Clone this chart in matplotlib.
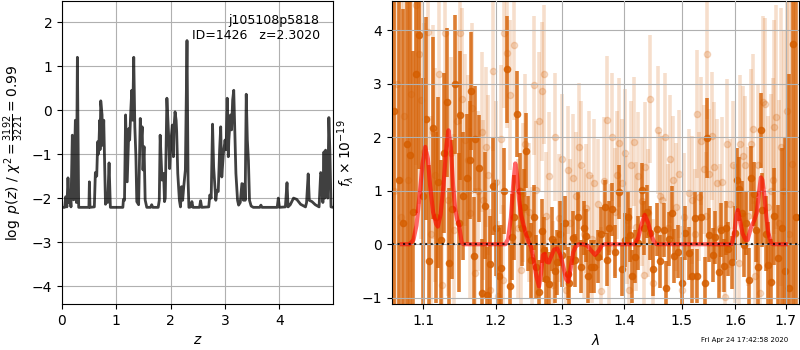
import numpy as np
import matplotlib
matplotlib.use('Agg')
from matplotlib import pyplot as plt
from matplotlib.ticker import NullLocator

# p(z) curve
z_grid = [0.0, 0.05, 0.068, 0.09, 0.11, 0.13, 0.147, 0.165, 0.19, 0.215, 0.246, 0.265, 0.283, 0.307,
          0.495, 0.504, 0.515, 0.595, 0.614, 0.639, 0.657, 0.670, 0.682, 0.694, 0.700, 0.713, 0.737,
          0.745, 0.756, 0.768, 0.80, 0.82, 0.84, 0.866, 0.89, 1.12, 1.13, 1.15, 1.17, 1.20, 1.23,
          1.245, 1.266, 1.284, 1.30, 1.32, 1.34, 1.36, 1.376, 1.41, 1.44, 1.456, 1.475, 1.49, 1.51,
          1.53, 1.56, 1.63, 1.65, 1.67, 1.77, 1.79, 1.806, 1.84, 1.87, 1.886, 1.90, 1.93, 1.96, 1.98,
          2.00, 2.03, 2.05, 2.06, 2.08, 2.10, 2.11, 2.13, 2.16, 2.18, 2.20, 2.22, 2.24, 2.27, 2.30,
          2.32, 2.335, 2.37, 2.39, 2.41, 2.53, 2.55, 2.57, 2.70, 2.72, 2.745, 2.77, 2.79, 2.81, 2.83,
          2.85, 2.875, 2.90, 2.92, 2.94, 2.97, 3.00, 3.02, 3.04, 3.06, 3.07, 3.10, 3.12, 3.14, 3.16,
          3.18, 3.20, 3.23, 3.25, 3.28, 3.31, 3.34, 3.36, 3.37, 3.39, 3.41, 3.43, 3.45, 3.48, 3.52,
          3.64, 3.66, 3.68, 3.96, 3.98, 4.00, 4.11, 4.14, 4.16, 4.20, 4.26, 4.32, 4.39, 4.48, 4.50,
          4.53, 4.55, 4.60, 4.66, 4.73, 4.76, 4.78, 4.80, 4.82, 4.835, 4.85, 4.87, 4.89, 4.91, 4.93,
          4.95, 4.99]
log_pz = [-2.21, -2.21, -1.97, -2.2, -1.54, -2.1, -1.88, -2.2, -0.57, -2.04, -0.23, -2.1, 1.2, -2.21,
          -2.21, -1.63, -2.21, -2.2, -1.42, -1.50, -0.72, -1.0, -0.68, -0.23, -0.9, 0.21, -0.11,
          -0.8, -0.68, -0.23, -2.14, -1.95, -2.1, -1.2, -2.21, -2.21, -2.03, -2.05, -0.11, -1.63, -0.42,
          -0.68, 0.0, 0.45, -0.23, 1.2, -0.38, -1.06, -2.08, -2.15, -0.19, -0.76, -0.38, -1.36, -0.83,
          -2.04, -2.21, -2.21, -2.15, -2.21, -2.21, -2.05, -0.57, -1.59, -1.44, -2.08, -2.0, 0.27, -0.53, -1.33,
          -0.76, -0.34, -1.06, -0.42, -0.04, -0.23, -0.49, -1.44, -2.05, -2.2, -1.74, -2.05, -1.74, -1.36, 1.58,
          -1.59, -2.21, -2.2, -2.08, -2.21, -2.21, -2.06, -2.21, -2.2, -1.93, -2.0, -0.32, -1.29, -1.67, -2.05,
          -1.82, -1.85, -0.91, -0.38, -1.52, -0.98, -0.68, -0.9, 0.27, -1.06, -0.68, -0.11, -0.45, 0.23, 0.45,
          -0.45, -1.44, -2.05, -2.16, -2.1, -1.67, -2.05, -1.67, -2.05, 0.36, -0.68, -1.14, -2.05, -2.18, -2.21,
          -2.21, -2.16, -2.21, -2.21, -2.0, -2.21, -2.2, -1.65, -2.2, -2.15, -2.0, -2.03, -2.14, -2.2, -2.1,
          -1.45, -2.05, -2.08, -2.15, -2.2, -1.42, -1.47, -2.1, -0.95, -2.0, -0.91, -1.33, -2.0, -0.17, -0.98,
          -2.2, -2.21]

# spectrum, dark points
wave_a = [1.062, 1.068, 1.074, 1.079, 1.083, 1.087, 1.091, 1.094, 1.099,
          1.104, 1.108, 1.113, 1.117, 1.120, 1.124, 1.128, 1.132, 1.135, 1.139, 1.143, 1.148, 1.150,
          1.154, 1.159, 1.163, 1.165, 1.169, 1.171, 1.176, 1.180, 1.185, 1.188, 1.192, 1.196, 1.200,
          1.204, 1.207, 1.212, 1.216, 1.221, 1.224, 1.227, 1.231, 1.235, 1.238, 1.241, 1.244, 1.248,
          1.252, 1.256, 1.260, 1.264, 1.268, 1.271, 1.275, 1.280, 1.284, 1.288, 1.292, 1.296, 1.300,
          1.304, 1.308, 1.311, 1.316, 1.320, 1.325, 1.330, 1.334, 1.337, 1.341, 1.346, 1.351, 1.357,
          1.362, 1.368, 1.371, 1.375, 1.379, 1.385, 1.391, 1.397, 1.401, 1.406, 1.410, 1.414, 1.419,
          1.424, 1.430, 1.434, 1.439, 1.445, 1.450, 1.456, 1.462, 1.468, 1.473, 1.478, 1.483, 1.487,
          1.494, 1.500, 1.506, 1.513, 1.519, 1.525, 1.528, 1.536, 1.542, 1.547, 1.551, 1.557, 1.562,
          1.569, 1.572, 1.578, 1.583, 1.587, 1.594, 1.599, 1.603, 1.607, 1.612, 1.616, 1.621, 1.626,
          1.631, 1.636, 1.641, 1.645, 1.650, 1.653, 1.660, 1.665, 1.671, 1.677, 1.685, 1.692, 1.699,
          1.706, 1.714, 1.721]
flux_a = [2.5, 1.2, 0.4, 1.87, 1.67, 0.61, 3.18, 3.91, 0.9,
          2.35, -0.31, 2.18, 0.5, 1.16, 0.07, 1.71, 2.65, -0.35, 0.65, 2.99, 0.40, 2.41,
          0.90, 1.23, 1.57, 2.86, -0.22, 1.96, 1.42, -0.91, 0.72, -0.95, -0.37, 1.08, 0.3,
          -0.6, -0.44, 0.99, 3.27, -0.79, 0.13, 0.5, 2.44, 1.0, 0.3, 0.70, 1.75, 0.2,
          -0.3, 0.5, -0.42, -0.9, 0.25, -0.1, -0.65, -0.74, 0.1, -0.5, -0.34, 0.2, -0.2,
          0.4, -0.55, -0.72, 0.12, -0.3, 0.5, -0.42, 0.3, 0.16, -0.6, -0.42, -0.42, -0.23,
          0.2, 0.70, -0.29, 0.3, 0.65, -0.14, 0.98, -0.47, 0.08, 0.5, 0.17, -0.6, -0.23,
          0.02, 1.01, 0.3, 0.61, 0.21, -0.47, 0.28, -0.32, 0.27, -0.82, 0.1, 0.59, -0.22,
          -0.14, -0.73, 0.21, -0.17, -0.59, 0.49, -0.59, 0.50, -0.73, 1.98, 0.17, -0.2, 0.13,
          -0.51, 0.27, -0.40, 0.3, -0.09, -0.34, 0.21, 1.2, 1.03, 0.58, -0.01, 0.4, -0.67,
          1.23, 0.94, 0.27, -0.42, 2.13, 0.64, 0.2, -0.39, -0.70, 0.52, -0.26, 0.3, -0.5,
          -0.82, 3.74, 0.5]
err_a = [6.0, 5.0, 4.0, 3.2, 3.0, 3.0, 2.6, 2.5, 2.2,
         1.9, 1.8, 1.7, 1.6, 1.6, 1.5, 1.5, 1.4, 1.4, 1.3, 1.3, 1.3, 1.2,
         1.2, 1.2, 1.1, 1.1, 1.1, 1.0, 1.0, 1.0, 1.0, 0.9, 0.9, 0.9, 0.9,
         0.9, 0.8, 0.8, 1.0, 0.8, 0.8, 0.8, 0.8, 0.7, 0.7, 0.7, 0.7, 0.7,
         0.7, 0.6, 0.6, 0.6, 0.6, 0.6, 0.6, 0.6, 0.6, 0.6, 0.6, 0.6, 0.6,
         0.5, 0.5, 0.5, 0.5, 0.5, 0.5, 0.5, 0.5, 0.5, 0.5, 0.5, 0.5, 0.5,
         0.5, 0.5, 0.5, 0.5, 0.5, 0.5, 0.5, 0.5, 0.5, 0.5, 0.5, 0.5, 0.5,
         0.5, 0.5, 0.5, 0.5, 0.5, 0.5, 0.5, 0.5, 0.5, 0.5, 0.5, 0.5, 0.5,
         0.5, 0.5, 0.5, 0.5, 0.5, 0.5, 0.5, 0.5, 0.5, 0.75, 0.5, 0.5, 0.5,
         0.5, 0.5, 0.5, 0.5, 0.5, 0.5, 0.5, 0.6, 0.6, 0.6, 0.6, 0.6, 0.6,
         0.6, 0.6, 0.6, 0.7, 0.7, 0.7, 0.7, 0.8, 0.8, 0.9, 1.0, 1.5, 2.5,
         4.0, 6.0, 7.0]

# spectrum, light points
wave_b = [1.062, 1.066, 1.071, 1.075, 1.080, 1.084, 1.090, 1.094, 1.097, 1.101, 1.106, 1.110, 1.113,
          1.116, 1.121, 1.125, 1.129, 1.133, 1.137, 1.141, 1.145, 1.150, 1.152, 1.157, 1.160, 1.163,
          1.166, 1.171, 1.175, 1.180, 1.182, 1.186, 1.189, 1.192, 1.196, 1.200, 1.203, 1.207, 1.210,
          1.212, 1.217, 1.221, 1.227, 1.233, 1.237, 1.240, 1.243, 1.249, 1.253, 1.256, 1.260, 1.264,
          1.268, 1.272, 1.275, 1.279, 1.285, 1.289, 1.295, 1.300, 1.305, 1.308, 1.312, 1.316, 1.321,
          1.326, 1.330, 1.334, 1.338, 1.343, 1.347, 1.351, 1.357, 1.362, 1.366, 1.371, 1.375, 1.379,
          1.384, 1.388, 1.392, 1.396, 1.401, 1.405, 1.408, 1.412, 1.417, 1.420, 1.424, 1.430, 1.433,
          1.436, 1.441, 1.445, 1.450, 1.458, 1.462, 1.466, 1.470, 1.475, 1.480, 1.484, 1.490, 1.495,
          1.500, 1.505, 1.513, 1.519, 1.524, 1.528, 1.532, 1.536, 1.541, 1.544, 1.547, 1.551, 1.555,
          1.559, 1.565, 1.570, 1.575, 1.580, 1.584, 1.590, 1.595, 1.600, 1.607, 1.610, 1.614, 1.618,
          1.624, 1.631, 1.634, 1.639, 1.645, 1.649, 1.654, 1.658, 1.664, 1.670, 1.674, 1.677, 1.681,
          1.686, 1.691, 1.696, 1.702, 1.707, 1.712]
flux_b = [1.0, 3.0, 0.5, 2.4, 1.2, 2.8, 4.48, 3.56, 2.69, 1.73, 3.97, 0.2, 2.10,
          1.29, 3.18, -0.76, 3.94, 0.83, 1.70, 0.27, 2.3, 3.94, 2.72, 1.95, 1.57, 0.58,
          2.54, -0.54, 1.0, 2.10, 0.83, 1.82, 1.29, -0.85, 3.24, 1.17, -0.96, 1.96, -0.67,
          3.94, 3.58, 2.79, 3.72, 0.3, -0.49, 0.96, 1.88, 0.6, -0.23, 2.97, 1.01, 2.3,
          2.86, 3.18, 0.52, 1.27, -0.76, 2.0, 0.49, 1.6, -0.85, 1.39, 0.4, 1.24, 0.9,
          1.82, 1.48, 0.2, 0.67, 1.3, 0.1, 1.14, 0.76, -0.88, 1.18, 2.32, -0.07, 2.0,
          0.6, 1.29, 1.90, 1.14, 1.70, 0.45, -0.85, 1.48, 1.92, 0.33, 1.27, 0.80, -0.57,
          1.45, 0.58, 2.72, -0.73, 2.13, 0.9, 0.83, 2.0, 0.3, 1.59, 1.20, 0.70, 1.31,
          -0.85, 0.5, 0.96, 0.83, 0.2, 2.44, 0.89, 1.93, 1.40, 0.52, 3.55, 1.32, 2.02,
          1.45, 1.15, 0.3, 1.17, -0.98, 1.88, 0.76, 1.48, 0.2, -0.35, 1.87, 1.65, 1.48,
          0.52, 1.87, 2.16, -0.60, 1.48, -0.91, 2.66, 2.63, 0.70, 1.0, 1.20, 2.19, 2.38,
          0.4, 1.82, 1.0, 2.5, 0.2, 1.5]
err_b = [6.0, 5.0, 5.0, 4.5, 4.0, 3.5, 3.0, 2.8, 2.6, 2.4, 2.2, 2.2, 2.0,
         2.0, 2.0, 1.9, 1.9, 1.8, 1.8, 1.8, 1.7, 1.7, 1.7, 1.6, 1.6, 1.6,
         1.6, 1.6, 1.5, 1.5, 1.5, 1.5, 1.5, 1.5, 1.5, 1.5, 1.4, 1.4, 1.4,
         1.4, 1.4, 1.4, 1.4, 1.3, 1.3, 1.3, 1.3, 1.3, 1.3, 1.3, 1.3, 1.3,
         1.3, 1.3, 1.2, 1.2, 1.2, 1.2, 1.2, 1.2, 1.2, 1.2, 1.2, 1.2, 1.2,
         1.2, 1.2, 1.2, 1.2, 1.2, 1.2, 1.2, 1.2, 1.2, 1.2, 1.2, 1.2, 1.2,
         1.2, 1.2, 1.2, 1.2, 1.2, 1.2, 1.2, 1.2, 1.2, 1.2, 1.2, 1.2, 1.2,
         1.2, 1.2, 1.2, 1.2, 1.2, 1.2, 1.2, 1.2, 1.2, 1.2, 1.2, 1.2, 1.2,
         1.2, 1.2, 1.2, 1.2, 1.2, 1.2, 1.2, 1.2, 1.2, 1.2, 1.2, 1.2, 1.2,
         1.2, 1.2, 1.2, 1.2, 1.2, 1.2, 1.2, 1.2, 1.3, 1.3, 1.3, 1.3, 1.3,
         1.3, 1.4, 1.4, 1.4, 1.5, 1.5, 1.6, 1.6, 1.7, 1.8, 1.9, 2.0, 2.1,
         2.3, 2.6, 3.0, 4.0, 5.0, 6.0]

# best-fit model
model_wave = [1.072, 1.082, 1.087, 1.091, 1.095, 1.099, 1.1026, 1.106, 1.109, 1.113, 1.117, 1.1194,
              1.123, 1.127, 1.131, 1.1338, 1.137, 1.140, 1.143, 1.146, 1.148, 1.150, 1.152, 1.155,
              1.214, 1.218, 1.222, 1.226, 1.2285, 1.231, 1.234, 1.237, 1.240, 1.244, 1.248, 1.252,
              1.256, 1.260, 1.264, 1.267, 1.270, 1.273, 1.276, 1.279, 1.283, 1.287, 1.292, 1.297,
              1.302, 1.306, 1.309, 1.313, 1.317, 1.321, 1.326, 1.333, 1.340, 1.346, 1.352, 1.358,
              1.363, 1.368, 1.418, 1.424, 1.429, 1.435, 1.441, 1.447, 1.452, 1.456, 1.593, 1.598,
              1.602, 1.605, 1.609, 1.614, 1.620, 1.624, 1.630, 1.637, 1.642, 1.646, 1.650, 1.653,
              1.657, 1.661, 1.665, 1.670, 1.675, 1.700]
model_flux = [0, 0, 0.08, 0.35, 0.9, 1.5, 1.82, 1.6, 1.1, 0.6, 0.38, 0.33,
              0.55, 1.1, 1.85, 2.13, 1.8, 1.1, 0.65, 0.45, 0.38, 0.2, 0.02, 0,
              0, 0.1, 0.5, 1.2, 1.51, 1.3, 0.85, 0.55, 0.4, 0.2, 0.05, -0.05,
              -0.3, -0.6, -0.79, -0.55, -0.2, -0.18, -0.33, -0.34, -0.22, -0.1, -0.08, -0.2,
              -0.45, -0.66, -0.7, -0.45, -0.15, -0.04, 0, 0, -0.03, -0.12, -0.2, -0.12,
              -0.02, 0, 0, 0.12, 0.35, 0.55, 0.4, 0.15, 0.03, 0, 0, 0.2,
              0.55, 0.64, 0.45, 0.2, 0.08, 0.08, 0.3, 0.45, 0.6, 0.95, 1.25, 1.2,
              0.9, 0.5, 0.2, 0.02, 0, 0]

wave_ticks = [1.1, 1.2, 1.3, 1.4, 1.5, 1.6, 1.7]
grism_color = (0.835, 0.369, 0.0)

fig = plt.figure(figsize=(8, 3.5), dpi=100)

# p(z)
ax = fig.add_axes([0.0775, 0.131, 0.339, 0.865])
ax.plot(z_grid, log_pz, color='k', alpha=0.75, lw=2)
ax.set_xlim(0, 4.99)
ax.set_ylim(-4.41, 2.47)
ax.set_xticks([0, 1, 2, 3, 4])
ax.grid()
ax.set_xlabel(r'$z$')
ax.set_ylabel(r'$\log\ p(z)$' + ' / ' + r'$\chi^2=\frac{3192}{3221}=0.99$')
ax.text(0.95, 0.96, 'j105108p5818\nID=1426   z=2.3020', ha='right', va='top',
        transform=ax.transAxes, fontsize=9)

# spectrum
ax = fig.add_axes([0.4896, 0.131, 0.509, 0.865])
ax.errorbar(wave_b, flux_b, err_b, marker='o', ms=4.5, color=grism_color, alpha=0.2,
            linestyle='None', elinewidth=2.6, capsize=0, zorder=1)
ax.errorbar(wave_a, flux_a, err_a, marker='o', ms=4.5, color=grism_color, alpha=0.8,
            linestyle='None', elinewidth=2.6, capsize=0, zorder=2)
ax.plot(model_wave, model_flux, color='r', alpha=0.6, lw=3, zorder=3)
ax.axhline(0, color='k', linestyle=':', lw=1.5, alpha=0.8, zorder=4)
ax.set_xscale('log')
ax.set_xlim(1.059, 1.727)
ax.set_ylim(-1.12, 4.54)
ax.set_xticks(wave_ticks)
ax.set_xticklabels(['{0:.1f}'.format(w) for w in wave_ticks])
ax.xaxis.set_minor_locator(NullLocator())
ax.grid()
ax.set_axisbelow(False)
ax.set_xlabel(r'$\lambda$')
ax.set_ylabel(r'$f_\lambda\times 10^{-19}$')

fig.text(0.985, 0.02, 'Fri Apr 24 17:42:58 2020', ha='right', va='bottom', fontsize=5)

fig.savefig('out.png', dpi=100)
